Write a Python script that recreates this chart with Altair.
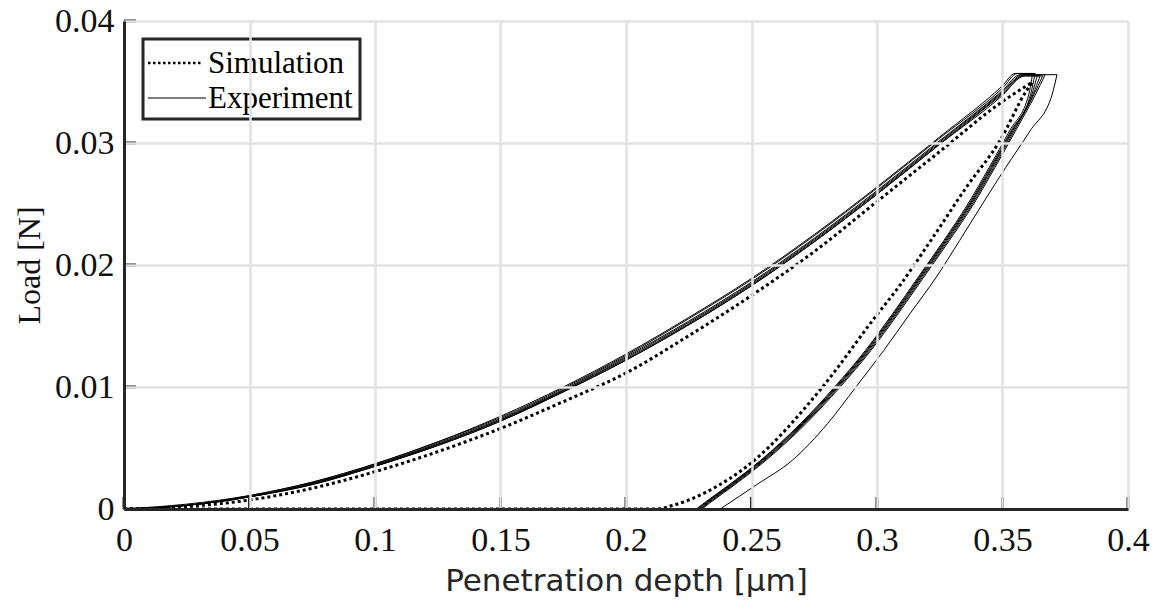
import altair as alt
import pandas as pd

# ---------------- data ----------------
SERIES = ["Simulation", "Experiment"]
X_TICKS = [0, 0.05, 0.1, 0.15, 0.2, 0.25, 0.3, 0.35, 0.4]
Y_TICKS = [0, 0.01, 0.02, 0.03, 0.04]

# simulation (dotted) loading branch
SIM_LOAD_DEPTH = [0, 0.025, 0.05, 0.075, 0.1, 0.125, 0.15, 0.175, 0.2, 0.225, 0.25, 0.275, 0.3, 0.325, 0.35, 0.362]
SIM_LOAD_LOAD = [0, 0.0002, 0.00074, 0.0017, 0.00306, 0.0047, 0.0066, 0.0088, 0.01115, 0.0142, 0.0175, 0.0211, 0.0252, 0.0293, 0.0334, 0.0350]
# simulation unloading branch (then resting on zero load)
SIM_UNLOAD_DEPTH = [0.362, 0.3596, 0.349, 0.3357, 0.3224, 0.309, 0.2999, 0.2773, 0.25, 0.2321, 0.2187, 0.212, 0.0]
SIM_UNLOAD_LOAD = [0.0350, 0.0343, 0.0302, 0.0264, 0.0223, 0.0183, 0.0159, 0.00975, 0.0038, 0.0014, 0.0003, 0.0, 0.0]

# experiments: loading branch on a common depth grid
EXP_LOAD_DEPTH = [0, 0.025, 0.05, 0.075, 0.1, 0.125, 0.15, 0.175, 0.2, 0.225, 0.25, 0.275, 0.3, 0.325, 0.35]
EXP1_LOAD = [0, 0.0003, 0.0010, 0.0021, 0.0036, 0.0054, 0.0074, 0.0098, 0.0125, 0.0154, 0.0186, 0.0222, 0.0261, 0.0302, 0.0343]
EXP2_LOAD = [0, 0.0003, 0.0011, 0.0022, 0.0037, 0.0055, 0.0076, 0.0100, 0.0127, 0.0157, 0.0189, 0.0225, 0.0264, 0.0305, 0.0347]
EXP3_LOAD = [0, 0.0003, 0.0010, 0.0020, 0.0035, 0.0052, 0.0072, 0.0096, 0.0122, 0.0151, 0.0183, 0.0219, 0.0258, 0.0299, 0.0340]
EXP4_LOAD = [0, 0.0003, 0.0010, 0.0021, 0.0036, 0.0053, 0.0073, 0.0097, 0.0124, 0.0153, 0.0185, 0.0221, 0.0260, 0.0301, 0.0342]
EXP5_LOAD = [0, 0.0004, 0.0011, 0.0022, 0.0037, 0.0055, 0.0075, 0.0099, 0.0126, 0.0156, 0.0188, 0.0224, 0.0263, 0.0304, 0.0345]
EXP6_LOAD = [0, 0.0003, 0.0010, 0.0021, 0.0035, 0.0053, 0.0073, 0.0097, 0.0123, 0.0152, 0.0184, 0.0220, 0.0259, 0.0300, 0.0341]
EXP7_LOAD = [0, 0.0003, 0.0010, 0.0020, 0.0035, 0.0052, 0.0072, 0.0096, 0.0122, 0.0151, 0.0183, 0.0219, 0.0258, 0.0299, 0.0339]

# hold at maximum load
EXP_PEAK_START = [0.357, 0.355, 0.359, 0.358, 0.356, 0.358, 0.359]
EXP_PEAK_END = [0.364, 0.362, 0.366, 0.367, 0.363, 0.365, 0.3717]
EXP_PEAK_LOAD = [0.0356, 0.0357, 0.0355, 0.0356, 0.0357, 0.0355, 0.0356]

# experiments: unloading branch on a common load grid
EXP_UNLOAD_LOAD = [0.034, 0.031, 0.028, 0.025, 0.022, 0.019, 0.016, 0.013, 0.010, 0.007, 0.004, 0.002, 0.0005, 0.0]
EXP1_UNLOAD = [0.3617, 0.3538, 0.3456, 0.3371, 0.3274, 0.3172, 0.3070, 0.2962, 0.2839, 0.2703, 0.2544, 0.2420, 0.2320, 0.2290]
EXP2_UNLOAD = [0.3605, 0.3528, 0.3447, 0.3362, 0.3266, 0.3164, 0.3062, 0.2954, 0.2831, 0.2695, 0.2537, 0.2412, 0.2312, 0.2280]
EXP3_UNLOAD = [0.3626, 0.3547, 0.3465, 0.3380, 0.3283, 0.3181, 0.3079, 0.2971, 0.2848, 0.2712, 0.2553, 0.2429, 0.2329, 0.2298]
EXP4_UNLOAD = [0.3632, 0.3552, 0.3470, 0.3385, 0.3288, 0.3186, 0.3084, 0.2976, 0.2853, 0.2717, 0.2558, 0.2434, 0.2334, 0.2303]
EXP5_UNLOAD = [0.3612, 0.3534, 0.3452, 0.3367, 0.3270, 0.3168, 0.3066, 0.2958, 0.2835, 0.2699, 0.2540, 0.2416, 0.2316, 0.2285]
EXP6_UNLOAD = [0.3622, 0.3542, 0.3460, 0.3375, 0.3278, 0.3176, 0.3074, 0.2966, 0.2843, 0.2707, 0.2548, 0.2424, 0.2324, 0.2294]
EXP7_UNLOAD = [0.3698, 0.3610, 0.3513, 0.3420, 0.3329, 0.3236, 0.3131, 0.3027, 0.2916, 0.2803, 0.2663, 0.2521, 0.2412, 0.2375]

EXP_LOADS = [EXP1_LOAD, EXP2_LOAD, EXP3_LOAD, EXP4_LOAD, EXP5_LOAD, EXP6_LOAD, EXP7_LOAD]
EXP_UNLOADS = [EXP1_UNLOAD, EXP2_UNLOAD, EXP3_UNLOAD, EXP4_UNLOAD, EXP5_UNLOAD, EXP6_UNLOAD, EXP7_UNLOAD]

# ---------------- tables ----------------
exp_rows = []
for i, (lo, ps, pe, pl, un) in enumerate(zip(EXP_LOADS, EXP_PEAK_START, EXP_PEAK_END, EXP_PEAK_LOAD, EXP_UNLOADS)):
    seg = f"exp{i}_load"
    for d, l in zip(EXP_LOAD_DEPTH, lo):
        exp_rows.append({"seg": seg, "x": d, "y": l})
    exp_rows.append({"seg": seg, "x": ps, "y": pl})
    exp_rows.append({"seg": seg, "x": pe, "y": pl})
    seg = f"exp{i}_unload"
    exp_rows.append({"seg": seg, "x": pe, "y": pl})
    for d, l in zip(un, EXP_UNLOAD_LOAD):
        exp_rows.append({"seg": seg, "x": d, "y": l})
exp_df = pd.DataFrame(exp_rows)

sim_rows = []
for d, l in zip(SIM_LOAD_DEPTH, SIM_LOAD_LOAD):
    sim_rows.append({"seg": "sim_load", "x": d, "y": l})
for d, l in zip(SIM_UNLOAD_DEPTH, SIM_UNLOAD_LOAD):
    sim_rows.append({"seg": "sim_unload", "x": d, "y": l})
sim_df = pd.DataFrame(sim_rows)

# ---------------- styling ----------------
W, H = 1004, 488
AX = "#262626"
GRID = "#e2e2e2"
SERIF = "Liberation Serif"

x_axis = alt.Axis(
    values=X_TICKS, format="~g", title="Penetration depth [µm]",
    titleFont="DejaVu Sans", titleFontSize=31, titleFontWeight="normal", titleColor=AX,
    titlePadding=9,
    labelFont=SERIF, labelFontSize=34, labelColor="#111111", labelPadding=14,
    labelFlush=False, labelOverlap=False,
    ticks=False, tickSize=0, domainColor=AX, domainWidth=3,
    grid=True, gridColor=GRID, gridWidth=2.5, zindex=1,
)
y_axis = alt.Axis(
    values=Y_TICKS, format="~g", title="Load [N]",
    titleFont=SERIF, titleFontSize=32, titleFontWeight="normal", titleColor="#111111",
    titlePadding=8,
    labelFont=SERIF, labelFontSize=34, labelColor="#111111", labelPadding=10,
    labelFlush=False, labelOverlap=False,
    ticks=False, tickSize=0, domainColor=AX, domainWidth=3,
    grid=True, gridColor=GRID, gridWidth=2.5, zindex=1,
)
X = alt.X("x:Q", scale=alt.Scale(domain=[0, 0.4], nice=False, zero=False), axis=x_axis)
Y = alt.Y("y:Q", scale=alt.Scale(domain=[0, 0.04], nice=False, zero=False), axis=y_axis)

exp_layer = alt.Chart(exp_df).mark_line(
    color="#000000", strokeWidth=1, interpolate="monotone"
).encode(x=X, y=Y, detail="seg:N")

sim_layer = alt.Chart(sim_df).mark_line(
    color="#000000", strokeWidth=3, strokeDash=[3, 3], interpolate="monotone"
).encode(x=X, y=Y, detail="seg:N")

# inward tick marks
xt_layer = alt.Chart(pd.DataFrame({"x": X_TICKS})).mark_rule(
    color=AX, strokeWidth=3
).encode(x=X, y=alt.value(H), y2=alt.value(H - 12))
yt_layer = alt.Chart(pd.DataFrame({"y": Y_TICKS})).mark_rule(
    color=AX, strokeWidth=3
).encode(y=Y, x=alt.value(0), x2=alt.value(12))

# legend box (upper-left, inside the plot)
one = pd.DataFrame({"k": [0]})
leg_box = alt.Chart(one).mark_rect(
    fill="white", stroke=AX, strokeWidth=3
).encode(x=alt.value(19), x2=alt.value(236), y=alt.value(18), y2=alt.value(98))
leg_sim = alt.Chart(one).mark_rule(
    color="#000000", strokeWidth=2.5, strokeDash=[2.5, 2.5]
).encode(x=alt.value(24), x2=alt.value(78), y=alt.value(42))
leg_exp = alt.Chart(one).mark_rule(
    color="#000000", strokeWidth=1
).encode(x=alt.value(24), x2=alt.value(82), y=alt.value(77))
txt_style = dict(font=SERIF, fontSize=31, align="left", baseline="alphabetic", color="#000000")
leg_txt1 = alt.Chart(one).mark_text(text=SERIES[0], **txt_style).encode(
    x=alt.value(84), y=alt.value(52))
leg_txt2 = alt.Chart(one).mark_text(text=SERIES[1], **txt_style).encode(
    x=alt.value(84), y=alt.value(87))

chart = alt.layer(
    exp_layer, sim_layer, xt_layer, yt_layer, leg_box, leg_sim, leg_exp, leg_txt1, leg_txt2
).properties(
    width=W, height=H,
    autosize=alt.AutoSizeParams(type="none"),
    padding={"left": 124, "top": 21, "right": 28, "bottom": 95},
    background="white",
).configure_view(stroke=None)

chart.save("out.html", embed_options={"renderer": "svg", "actions": False})
